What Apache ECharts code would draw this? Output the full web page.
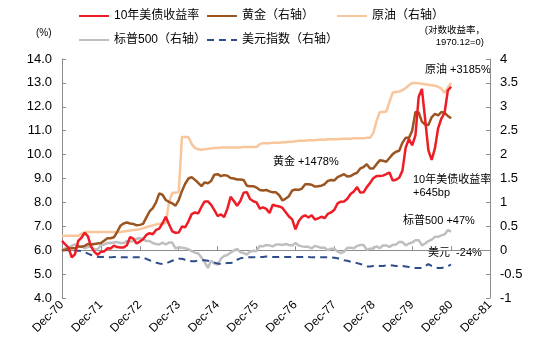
<!DOCTYPE html>
<html><head><meta charset="utf-8">
<script src="https://cdn.jsdelivr.net/npm/echarts@6/dist/echarts.min.js"></script>
<style>html,body{margin:0;padding:0;background:#fff}#c{width:558px;height:360px}</style>
</head><body><div id="c"></div>
<script>
// Monthly data, Dec-1970 (index 0) .. Dec-1980 (index 120)
const xTickLabels = ['Dec-70','Dec-71','Dec-72','Dec-73','Dec-74','Dec-75','Dec-76','Dec-77','Dec-78','Dec-79','Dec-80','Dec-81'];

// 10-year US Treasury yield (%), left axis
const yield10y = [6.39,
 6.24,6.11,5.70,5.83,6.39,6.52,6.73,6.58,6.14,5.93,5.81,5.93,
 5.95,6.08,6.07,6.19,6.13,6.11,6.11,6.21,6.55,6.48,6.28,6.36,
 6.46,6.64,6.71,6.67,6.85,6.90,7.13,7.40,7.09,6.79,6.73,6.74,
 6.99,6.96,7.21,7.51,7.58,7.54,7.81,8.04,8.04,7.90,7.68,7.43,
 7.50,7.39,7.73,8.23,8.06,7.86,8.06,8.40,8.43,8.14,8.05,8.00,
 7.74,7.79,7.73,7.56,7.90,7.86,7.83,7.77,7.59,7.41,7.29,6.87,
 7.21,7.39,7.46,7.37,7.46,7.28,7.33,7.40,7.34,7.52,7.58,7.69,
 7.96,8.03,8.04,8.15,8.35,8.46,8.64,8.41,8.42,8.64,8.81,9.01,
 9.10,9.10,9.12,9.18,9.25,8.91,8.95,9.03,9.33,10.30,10.65,10.39,
 10.80,12.41,12.75,11.47,10.18,9.78,10.25,11.10,11.51,11.75,12.68,12.84];

// Gold, log return vs 1970.12 (right axis)
const gold = [0,
 0.01,0.03,0.04,0.04,0.08,0.07,0.09,0.13,0.12,0.13,0.14,0.15,
 0.20,0.25,0.25,0.27,0.38,0.51,0.56,0.58,0.56,0.55,0.52,0.53,
 0.55,0.68,0.81,0.88,1.00,1.19,1.16,1.05,1.01,0.98,0.93,1.05,
 1.24,1.39,1.50,1.53,1.47,1.41,1.34,1.42,1.40,1.45,1.58,1.59,
 1.55,1.57,1.56,1.51,1.50,1.48,1.48,1.47,1.35,1.34,1.34,1.31,
 1.26,1.25,1.26,1.23,1.21,1.21,1.15,1.04,1.08,1.13,1.25,1.27,
 1.26,1.29,1.38,1.38,1.37,1.33,1.34,1.35,1.38,1.45,1.47,1.46,
 1.53,1.56,1.59,1.54,1.55,1.59,1.62,1.71,1.74,1.80,1.71,1.71,
 1.80,1.88,1.87,1.85,1.93,2.01,2.06,2.08,2.25,2.35,2.35,2.50,
 2.89,2.88,2.69,2.63,2.62,2.78,2.85,2.82,2.89,2.87,2.81,2.76];

// Crude oil, log return vs 1970.12 (right axis)
const oil = [0.30,
 0.30,0.30,0.30,0.30,0.30,0.34,0.38,0.38,0.38,0.38,0.38,0.38,
 0.38,0.38,0.38,0.38,0.38,0.38,0.39,0.40,0.41,0.42,0.43,0.44,
 0.46,0.48,0.50,0.52,0.54,0.55,0.56,0.57,1.00,1.20,1.20,1.22,
 2.37,2.37,2.37,2.22,2.14,2.11,2.10,2.11,2.12,2.13,2.14,2.14,
 2.15,2.15,2.15,2.15,2.15,2.15,2.15,2.16,2.16,2.16,2.16,2.16,
 2.22,2.24,2.24,2.24,2.25,2.25,2.25,2.26,2.26,2.27,2.27,2.28,
 2.29,2.29,2.29,2.30,2.30,2.30,2.31,2.31,2.31,2.32,2.32,2.32,
 2.32,2.33,2.33,2.33,2.33,2.34,2.34,2.34,2.34,2.35,2.35,2.45,
 2.70,2.89,2.89,2.90,3.10,3.30,3.31,3.32,3.35,3.39,3.45,3.50,
 3.50,3.49,3.48,3.47,3.46,3.45,3.44,3.42,3.38,3.29,3.40,3.50];

// S&P 500, log return vs 1970.12 (right axis)
const sp500 = [0,
 0.04,0.05,0.09,0.12,0.08,0.08,0.04,0.07,0.07,0.02,0.02,0.10,
 0.12,0.15,0.15,0.16,0.17,0.15,0.15,0.19,0.18,0.19,0.24,0.25,
 0.23,0.19,0.19,0.15,0.13,0.12,0.16,0.12,0.16,0.16,0.04,0.06,
 0.05,0.04,0.02,-0.02,-0.05,-0.07,-0.15,-0.25,-0.37,-0.22,-0.28,-0.30,
 -0.18,-0.12,-0.10,-0.05,-0.01,0.03,-0.04,-0.06,-0.09,-0.03,-0.01,-0.02,
 0.09,0.08,0.11,0.10,0.08,0.12,0.12,0.11,0.13,0.11,0.10,0.15,
 0.10,0.08,0.07,0.07,0.04,0.09,0.07,0.05,0.05,0.00,0.03,0.03,
 -0.03,-0.06,-0.03,0.05,0.05,0.04,0.09,0.11,0.11,0.01,0.03,0.04,
 0.08,0.04,0.10,0.10,0.07,0.11,0.12,0.17,0.17,0.10,0.14,0.16,
 0.21,0.21,0.10,0.14,0.19,0.22,0.28,0.28,0.31,0.33,0.42,0.39];

// US Dollar index, log return vs 1970.12 (right axis)
const dxy = [0,
 0,0,0,-0.01,-0.01,-0.02,-0.04,-0.07,-0.10,-0.12,-0.14,-0.14,
 -0.14,-0.15,-0.15,-0.14,-0.14,-0.15,-0.15,-0.15,-0.14,-0.15,-0.15,-0.15,
 -0.15,-0.18,-0.21,-0.24,-0.26,-0.28,-0.29,-0.28,-0.25,-0.22,-0.19,-0.18,
 -0.18,-0.20,-0.21,-0.23,-0.23,-0.22,-0.21,-0.21,-0.22,-0.24,-0.26,-0.28,
 -0.29,-0.28,-0.27,-0.27,-0.25,-0.20,-0.17,-0.16,-0.15,-0.15,-0.15,-0.14,
 -0.14,-0.14,-0.13,-0.13,-0.14,-0.14,-0.14,-0.14,-0.14,-0.14,-0.14,-0.14,
 -0.14,-0.14,-0.14,-0.14,-0.15,-0.15,-0.15,-0.15,-0.15,-0.15,-0.15,-0.16,
 -0.17,-0.19,-0.21,-0.22,-0.24,-0.25,-0.27,-0.29,-0.31,-0.34,-0.34,-0.33,
 -0.32,-0.33,-0.33,-0.32,-0.31,-0.32,-0.33,-0.33,-0.33,-0.34,-0.35,-0.36,
 -0.37,-0.37,-0.37,-0.33,-0.29,-0.33,-0.36,-0.37,-0.37,-0.36,-0.33,-0.30];

const names = ['10年美债收益率','黄金（右轴）','原油（右轴）','标普500（右轴）','美元指数（右轴）'];
const colors = {y:'#EE1C25', gold:'#9A5520', oil:'#F9C59B', sp:'#BFBFBF', dxy:'#2F4D8A'};

const FONT = '"Liberation Sans","Noto Sans CJK SC",Arial,sans-serif';
const pairs = arr => arr.map((v,i)=>[i,v]);

const chart = echarts.init(document.getElementById('c'), null, {renderer:'canvas'});
const legendBase = {padding:0, itemWidth:30, itemHeight:14, itemStyle:{opacity:0},
  textStyle:{fontSize:12, color:'#000', fontFamily:FONT}, selectedMode:false};
const axisLineStyle = {lineStyle:{color:'#8c8c8c', width:1}};
const option = {
  animation:false,
  textStyle:{fontFamily:FONT},
  grid:{left:62, right:68, top:59, bottom:62, containLabel:false},
  legend:[
    Object.assign({data:[names[0]], left:78, top:10}, legendBase),
    Object.assign({data:[names[1]], left:206, top:10}, legendBase),
    Object.assign({data:[names[2]], left:336, top:10}, legendBase),
    Object.assign({data:[names[3]], left:78, top:34}, legendBase),
    Object.assign({data:[names[4]], left:206, top:34}, legendBase)
  ],
  xAxis:{type:'value', min:0, max:132, interval:12,
    axisLine:axisLineStyle, axisTick:{show:true, inside:true, length:4, lineStyle:{color:'#8c8c8c'}},
    splitLine:{show:false},
    axisLabel:{rotate:45, margin:5, fontSize:12, color:'#000', fontFamily:FONT,
      formatter:v => xTickLabels[Math.round(v/12)] || ''}},
  yAxis:[
    {type:'value', min:4, max:14, interval:1, position:'left',
     axisLine:{show:true, lineStyle:{color:'#8c8c8c'}}, axisTick:{show:true, inside:true, length:4, lineStyle:{color:'#8c8c8c'}},
     splitLine:{show:false},
     axisLabel:{fontSize:13, color:'#000', margin:10, fontFamily:FONT, formatter:v=>v.toFixed(1)}},
    {type:'value', min:-1, max:4, interval:0.5, position:'right',
     axisLine:{show:true, lineStyle:{color:'#8c8c8c'}}, axisTick:{show:true, inside:true, length:4, lineStyle:{color:'#8c8c8c'}},
     splitLine:{show:false},
     axisLabel:{fontSize:13, color:'#000', margin:10, fontFamily:FONT, formatter:v=>String(v)}}
  ],
  series:[
    {name:names[2], type:'line', yAxisIndex:1, data:pairs(oil), symbol:'none', lineStyle:{color:colors.oil, width:2.5}, itemStyle:{color:colors.oil}, z:2},
    {name:names[3], type:'line', yAxisIndex:1, data:pairs(sp500), symbol:'none', lineStyle:{color:colors.sp, width:2.5}, itemStyle:{color:colors.sp}, z:3},
    {name:names[4], type:'line', yAxisIndex:1, data:pairs(dxy), symbol:'none', lineStyle:{color:colors.dxy, width:2, type:[7,5]}, itemStyle:{color:colors.dxy}, z:4},
    {name:names[1], type:'line', yAxisIndex:1, data:pairs(gold), symbol:'none', lineStyle:{color:colors.gold, width:2.5}, itemStyle:{color:colors.gold}, z:5},
    {name:names[0], type:'line', yAxisIndex:0, data:pairs(yield10y), symbol:'none', lineStyle:{color:colors.y, width:2.5}, itemStyle:{color:colors.y}, z:6}
  ],
  graphic:[
    {type:'text', x:36, y:33, style:{text:'(%)', fontSize:10, fontFamily:FONT, fill:'#000', textVerticalAlign:'middle'}},
    {type:'text', x:485, y:30, style:{text:'(对数收益率，', fontSize:9.5, fontFamily:FONT, fill:'#000', textAlign:'right', textVerticalAlign:'middle'}},
    {type:'text', x:484, y:42, style:{text:'1970.12=0)', fontSize:9.5, fontFamily:FONT, fill:'#000', textAlign:'right', textVerticalAlign:'middle'}},
    {type:'text', x:425, y:70, style:{text:'原油 +3185%', fontSize:11, fontFamily:FONT, fill:'#000', textVerticalAlign:'middle'}},
    {type:'text', x:273, y:162, style:{text:'黄金 +1478%', fontSize:11, fontFamily:FONT, fill:'#000', textVerticalAlign:'middle'}},
    {type:'text', x:413, y:180, style:{text:'10年美债收益率', fontSize:11, fontFamily:FONT, fill:'#000', textVerticalAlign:'middle'}},
    {type:'text', x:413, y:193, style:{text:'+645bp', fontSize:11, fontFamily:FONT, fill:'#000', textVerticalAlign:'middle'}},
    {type:'text', x:403, y:221, style:{text:'标普500 +47%', fontSize:11, fontFamily:FONT, fill:'#000', textVerticalAlign:'middle'}},
    {type:'text', x:428, y:253, style:{text:'美元  -24%', fontSize:11, fontFamily:FONT, fill:'#000', textVerticalAlign:'middle'}}
  ]
};
chart.setOption(option);
</script></body></html>
